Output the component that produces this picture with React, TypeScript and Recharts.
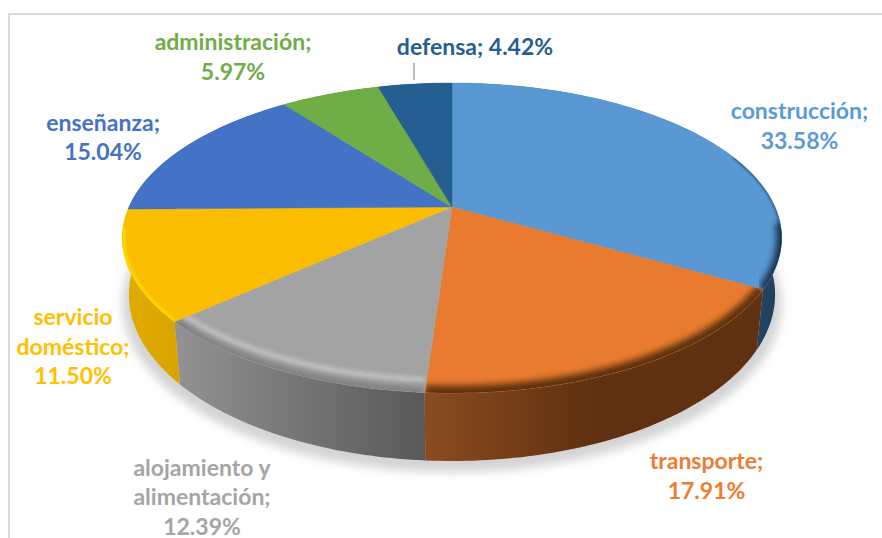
import React from 'react';
import { PieChart, Pie } from 'recharts';

const categories = ['construcción', 'transporte', 'alojamiento y alimentación', 'servicio doméstico', 'enseñanza', 'administración', 'defensa'];
const shares = [33.58, 17.91, 12.39, 11.5, 15.04, 5.97, 4.42];
const topColors = ['#5a98d3', '#e97b30', '#a3a3a3', '#fbbd00', '#4472c4', '#70ad47', '#255e91'];
const textColors = ['#5b9bd5', '#ed7d31', '#a5a5a5', '#ffc000', '#4472c4', '#70ad47', '#255e91'];
const labelWraps = [
  ['construcción;', '33.58%'],
  ['transporte;', '17.91%'],
  ['alojamiento y', 'alimentación;', '12.39%'],
  ['servicio', 'doméstico;', '11.50%'],
  ['enseñanza;', '15.04%'],
  ['administración;', '5.97%'],
  ['defensa; 4.42%'],
];

const labelAnchors = [
  [799.5, 119], [706.5, 469], [202, 475.5], [73, 325], [103, 130.5], [233, 50], [475, 55],
];
const LINE_GAP = 29.5;
const K = 0.2;
const FLATTEN = 0.4607;
const DEPTH = 54.4;
const BOTTOM_SHRINK = 0.98;

const sideStops = [
  [['#2a4f72', '#21405c'], 640, 783],
  [['#8c4b1f', '#5f3111', '#5f3111'], 425, 760],
  [['#929292', '#585858'], 178, 427],
  [['#e2ab00', '#d9a300'], 122, 183],
  [['#2d4a80', '#2d4a80'], 122, 400],
  [['#4a7530', '#4a7530'], 280, 390],
  [['#193f62', '#193f62'], 380, 452],
];
const rims = [
  [{ c: '#3b6288', w: 3, b: 1, s: 0, minY: -50 }, { c: '#1c3650', w: 11, b: 3, s: 0, minY: 15 }],
  [{ c: '#5f3111', w: 15, b: 3, s: 0, minY: 0 }],
  [{ c: '#808080', w: 11, b: 3, s: 0, minY: 0 }, { c: '#c8c8c8', w: 4, b: 2, s: -13, minY: 0 }],
  [{ c: '#ffd800', w: 6, b: 1, s: 0, minY: 18 }],
  [],
  [],
  [],
];

function project(cx: number, cy: number, r: number, deg: number, depth = 0, shrink = 1) {
  const rad = (deg * Math.PI) / 180;
  const u = Math.cos(rad);
  const v = -Math.sin(rad);
  const d = 1 - K * v;
  return [cx + (shrink * r * u) / d, cy + (r * FLATTEN * v) / d + (depth ? depth / d : 0)];
}

function arcPoints(p: any, depth = 0, shrink = 1) {
  const n = Math.max(2, Math.ceil(Math.abs(p.endAngle - p.startAngle)));
  const out: number[][] = [];
  for (let i = 0; i <= n; i++) {
    const a = p.startAngle + ((p.endAngle - p.startAngle) * i) / n;
    out.push(project(p.cx, p.cy, p.outerRadius, a, depth, shrink));
  }
  return out;
}
const toPath = (pts: number[][]) => pts.map((q, i) => `${i ? 'L' : 'M'}${q[0].toFixed(2)},${q[1].toFixed(2)}`).join('');

function ShadowShape(p: any) {
  const pts = arcPoints(p, DEPTH + 9, 1);
  return <path d={toPath(pts) + 'Z'} fill="#000" fillOpacity={0.17} stroke="none" filter="url(#blurShadow)" />;
}

function SideShape(p: any) {
  const i = p.index ?? categories.indexOf(p.name);
  const top = arcPoints(p);
  const bottom = arcPoints(p, DEPTH, BOTTOM_SHRINK).reverse();
  return <path d={toPath([...top, ...bottom]) + 'Z'} fill={`url(#side${i})`} stroke="none" />;
}

function TopShape(p: any) {
  const i = p.index ?? categories.indexOf(p.name);
  const top = arcPoints(p);
  const d = `M${p.cx},${p.cy}` + toPath(top).replace('M', 'L') + 'Z';
  return (
    <g>
      <clipPath id={`clip${i}`}><path d={d} /></clipPath>
      <path d={d} fill={topColors[i]} stroke={topColors[i]} strokeWidth={0.4} />
      <g clipPath={`url(#clip${i})`}>
        {rims[i].map((r, j) => {
          const pts = arcPoints(p).filter((q) => q[1] >= p.cy + r.minY).map((q) => [q[0], q[1] + r.s]);
          return (
            <path key={j} d={toPath(pts)} fill="none" stroke={r.c} strokeWidth={r.w} filter={`url(#blur${r.b === 1 ? 'A' : r.b === 2 ? 'C' : 'D'})`} />
          );
        })}
      </g>
    </g>
  );
}

function renderLabel(p: any) {
  const i = p.index;
  const [x, y] = labelAnchors[i];
  return (
    <g key={i}>
      {labelWraps[i].map((t, j) => (
        <text key={j} x={x} y={y + j * LINE_GAP} textAnchor="middle" fill={textColors[i]} fontFamily="Lato, sans-serif" fontWeight={700} fontSize={23}>{t}</text>
      ))}
      {i === 6 && <line x1={414} x2={414} y1={63} y2={80} stroke="#a6a6a6" strokeWidth={1.5} />}
    </g>
  );
}

const data = categories.map((name, i) => ({ name, value: shares[i] }));
const whole = [{ name: 'total', value: shares.reduce((a, b) => a + b, 0) }];

const pieProps = {
  dataKey: 'value', nameKey: 'name', cx: 452, cy: 207, innerRadius: 0, outerRadius: 323,
  startAngle: 90, endAngle: -270, isAnimationActive: false, stroke: 'none',
};

export default function App() {
  return (
    <div style={{ position: 'absolute', left: 0, top: 0, width: 882, height: 538, background: '#fff', overflow: 'hidden' }}>
      <div style={{ position: 'absolute', left: 8, top: 13, width: 874, height: 525, boxSizing: 'border-box', borderTop: '2px solid #d9d9d9', borderLeft: '2px solid #d9d9d9' }} />
      <div style={{ position: 'absolute', left: 0, top: 0 }}>
        <PieChart width={882} height={538} margin={{ top: 0, right: 0, bottom: 0, left: 0 }}>
          <defs>
            <filter id="blurShadow" x="-10%" y="-10%" width="120%" height="120%"><feGaussianBlur stdDeviation={5} /></filter>
            <filter id="blurA" x="-20%" y="-30%" width="140%" height="160%"><feGaussianBlur stdDeviation={1} /></filter>
            <filter id="blurC" x="-20%" y="-30%" width="140%" height="160%"><feGaussianBlur stdDeviation={2} /></filter>
            <filter id="blurD" x="-20%" y="-30%" width="140%" height="160%"><feGaussianBlur stdDeviation={3} /></filter>
            {sideStops.map((s, i) => {
              const stops = s[0] as string[];
              return (
                <linearGradient key={i} id={`side${i}`} gradientUnits="userSpaceOnUse" x1={s[1] as number} x2={s[2] as number} y1={0} y2={0}>
                  {stops.map((c, j) => <stop key={j} offset={j / (stops.length - 1)} stopColor={c} />)}
                </linearGradient>
              );
            })}
          </defs>
          <Pie {...pieProps} data={whole} shape={ShadowShape} />
          <Pie {...pieProps} data={data} shape={SideShape} />
          <Pie {...pieProps} data={data} shape={TopShape} label={renderLabel} labelLine={false} />
        </PieChart>
      </div>
    </div>
  );
}
